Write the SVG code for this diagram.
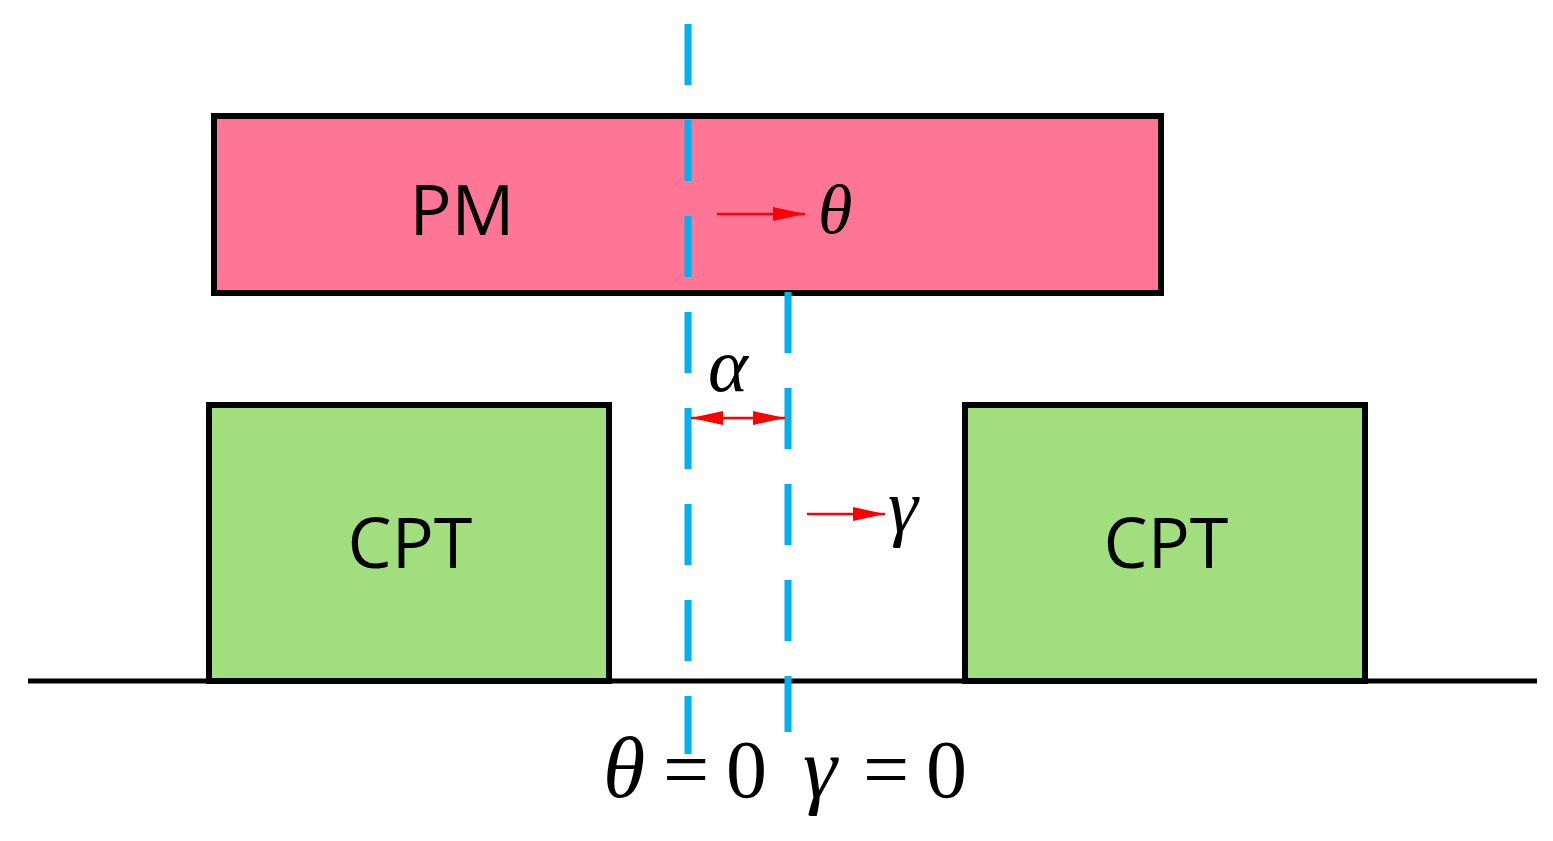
<svg xmlns="http://www.w3.org/2000/svg" width="1553" height="841" viewBox="0 0 1553 841">
<defs>
<style>
.box{stroke:#000;stroke-width:6}
.lbl{font-family:"Open Sans","Liberation Sans",sans-serif;font-size:70px;fill:#000;text-anchor:middle}
.math{font-family:"Liberation Serif",serif;font-style:italic;fill:#000}
.num{font-family:"Liberation Serif",serif;fill:#000;font-size:82px}
.dash{stroke:#00B0F0;stroke-width:7;stroke-dasharray:61 35;fill:none}
.red{stroke:#FF0000;stroke-width:2.5;fill:none}
</style>
<marker id="ah2" viewBox="0 0 10 10" refX="10" refY="5" markerWidth="32" markerHeight="14" markerUnits="userSpaceOnUse" orient="auto-start-reverse" preserveAspectRatio="none"><path d="M0,0 L10,5 L0,10 z" fill="#FF0000"/></marker>
</defs>
<rect width="1553" height="841" fill="#fff"/>
<g id="ground"><line x1="28" y1="681" x2="1537" y2="681" stroke="#000" stroke-width="5"/></g>
<g id="pm"><rect class="box" x="214" y="116" width="947" height="177" fill="#FF7595"/><text class="lbl" x="462" y="235">PM</text></g>
<g id="cpt1"><rect class="box" x="209" y="405" width="400" height="276" fill="#A1DF7E"/><text class="lbl" x="410" y="568">CPT</text></g>
<g id="cpt2"><rect class="box" x="965" y="405" width="400" height="276" fill="#A1DF7E"/><text class="lbl" x="1166" y="568">CPT</text></g>
<g id="connectors">
<line class="dash" x1="688" y1="24" x2="688" y2="754"/>
<line class="dash" x1="788" y1="292" x2="788" y2="732"/>
<line class="red" x1="717" y1="214" x2="805" y2="214" marker-end="url(#ah2)"/>
<line class="red" x1="691" y1="418" x2="785" y2="418" marker-start="url(#ah2)" marker-end="url(#ah2)"/>
<line class="red" x1="807" y1="514" x2="885" y2="514" marker-end="url(#ah2)"/>
</g>
<g id="labels">
<text class="math" x="818" y="233" font-size="70">θ</text>
<text class="math" x="708" y="391" font-size="76">α</text>
<text class="math" x="888" y="532" font-size="76">γ</text>
<text class="math" x="603" y="797" font-size="86">θ</text>
<text class="num" x="663" y="797">=</text>
<text class="num" x="726" y="797">0</text>
<text class="math" x="803" y="797" font-size="86">γ</text>
<text class="num" x="863" y="797">=</text>
<text class="num" x="926" y="797">0</text>
</g>
</svg>
